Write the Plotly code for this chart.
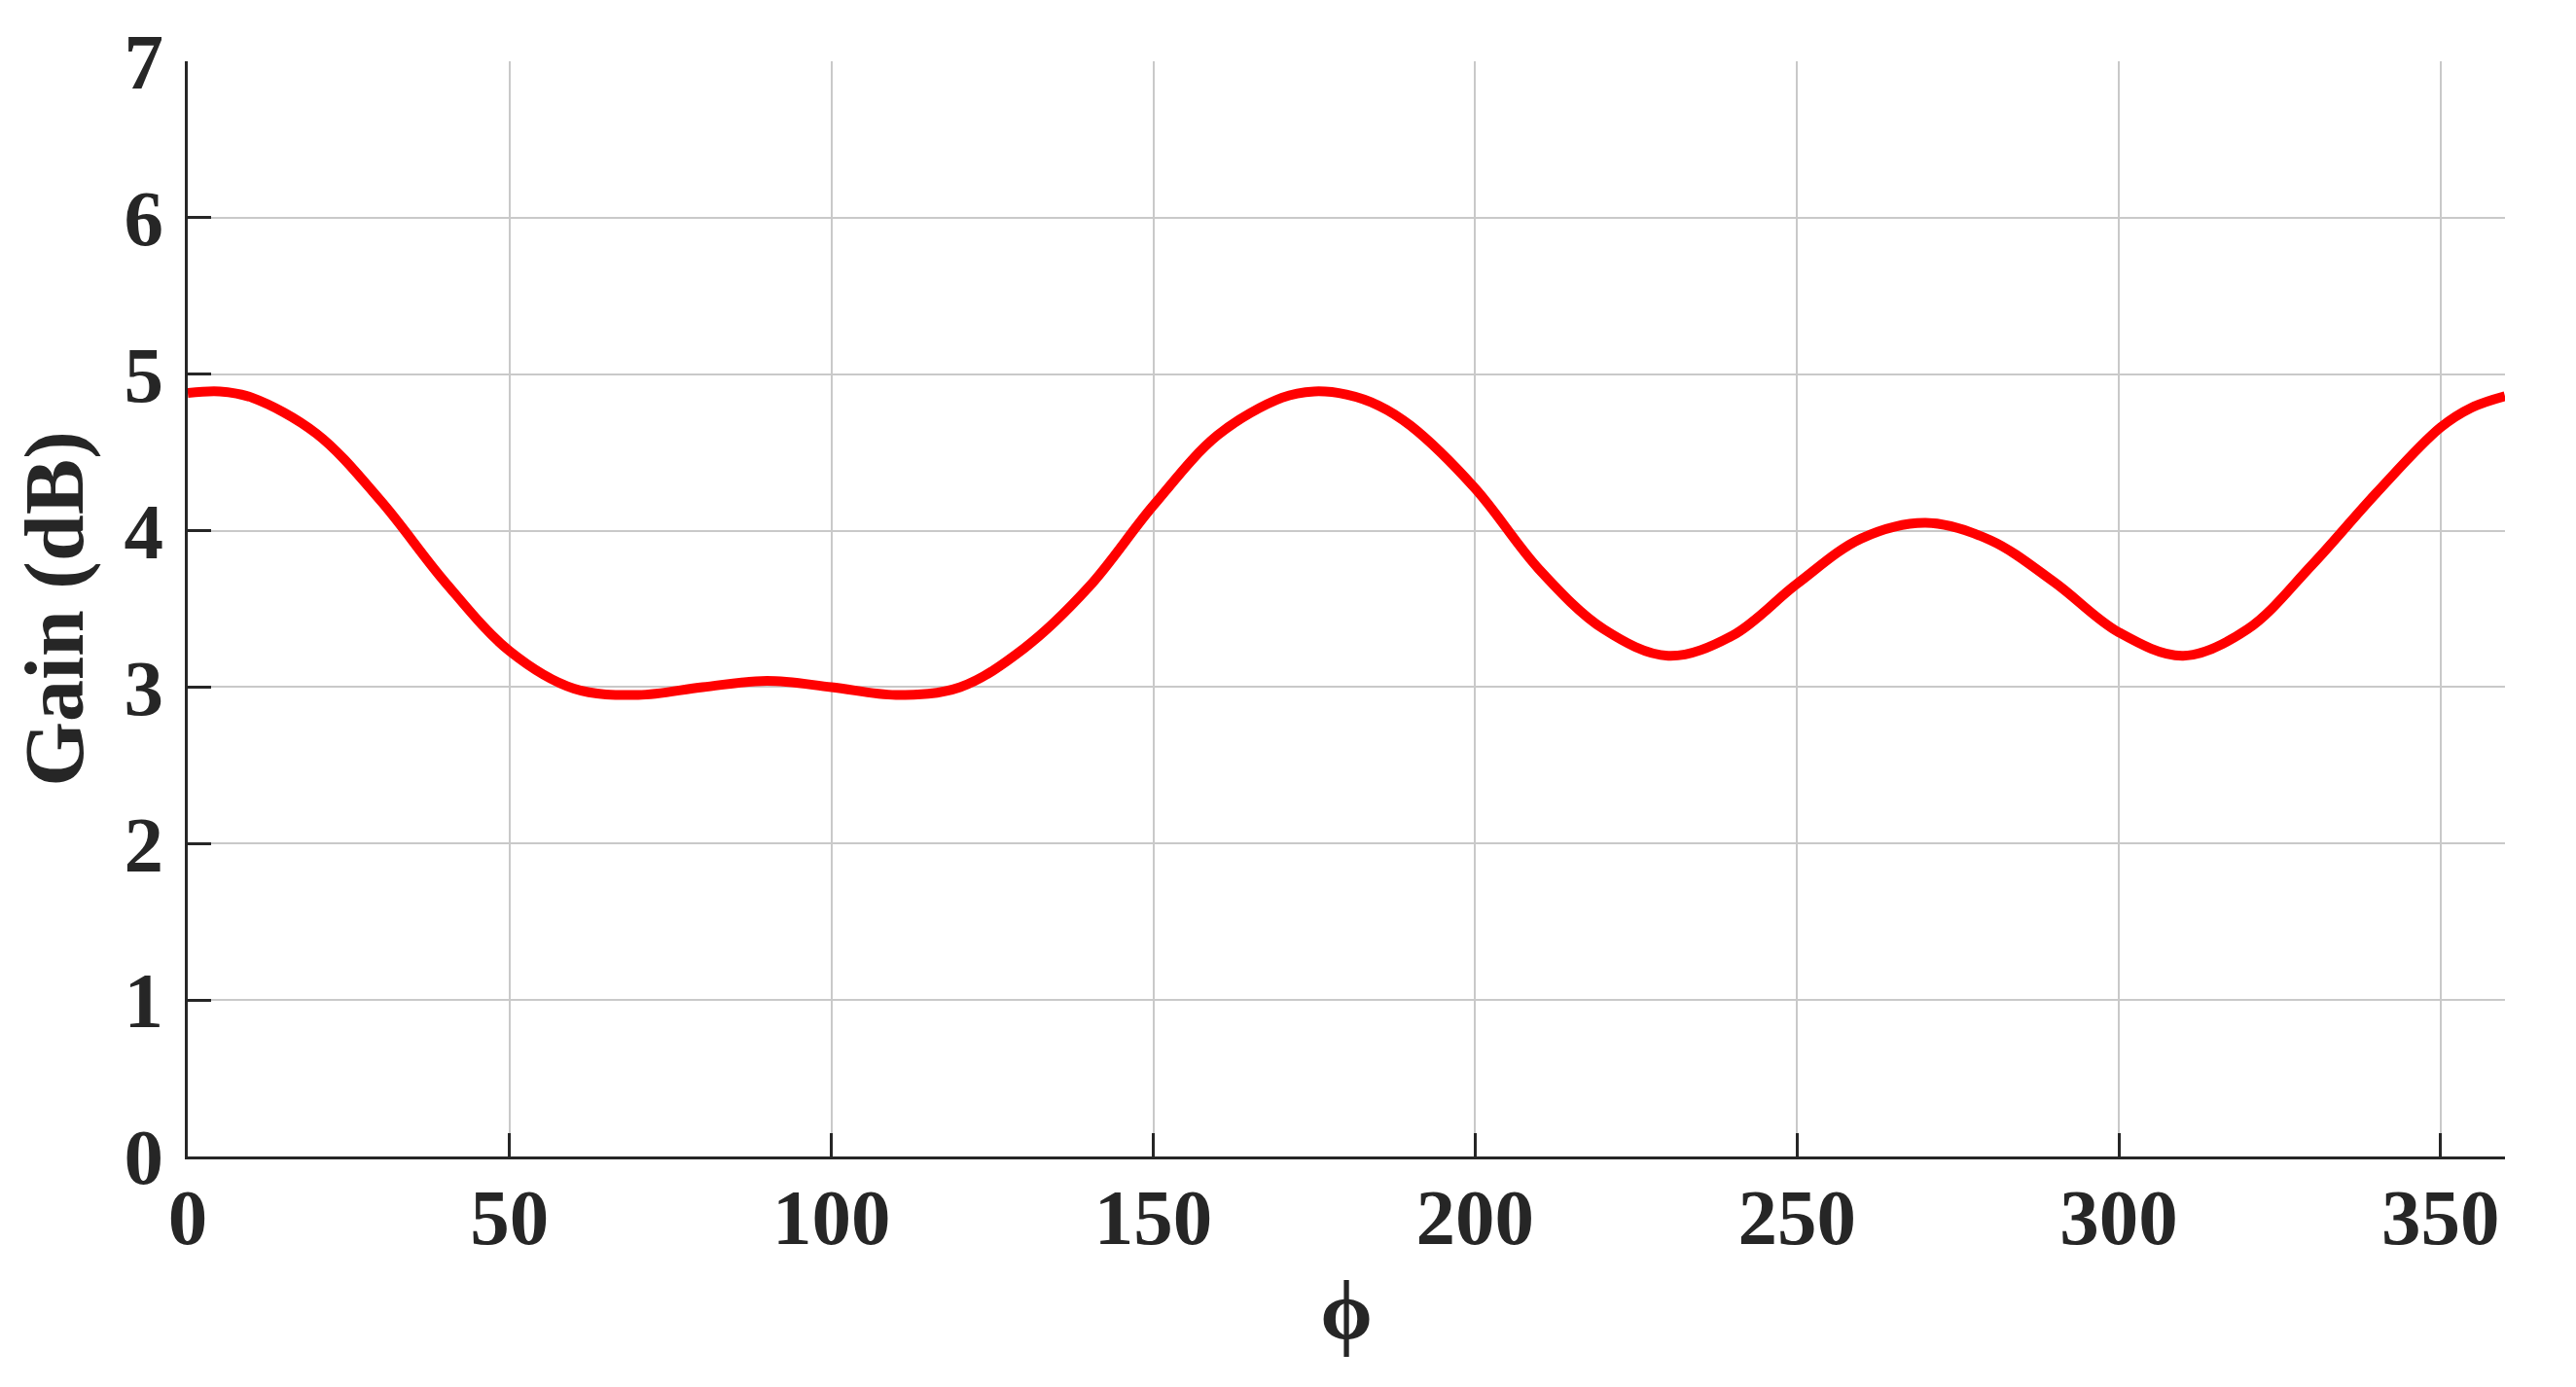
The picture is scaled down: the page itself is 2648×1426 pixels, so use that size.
import plotly.graph_objects as go

phi = [0, 5, 10, 20, 30, 40, 50, 60, 70, 80, 90, 100, 110, 120, 130, 140, 150, 160, 170,
       175, 180, 185, 190, 200, 210, 220, 230, 240, 250, 260, 270, 280, 290, 300, 310, 320,
       330, 340, 350, 355, 360]
gain = [4.88, 4.89, 4.85, 4.62, 4.19, 3.67, 3.23, 2.99, 2.95, 3.00, 3.04, 3.00, 2.95, 3.00,
        3.25, 3.64, 4.16, 4.61, 4.85, 4.89, 4.87, 4.80, 4.67, 4.27, 3.75, 3.37, 3.20, 3.33,
        3.66, 3.95, 4.05, 3.94, 3.67, 3.35, 3.20, 3.37, 3.78, 4.24, 4.66, 4.79, 4.86]

x_ticks = [0, 50, 100, 150, 200, 250, 300, 350]
y_ticks = [0, 1, 2, 3, 4, 5, 6, 7]

FONT = "Liberation Serif, Times New Roman, serif"
DARK = "#262626"

fig = go.Figure()
fig.add_trace(go.Scatter(x=phi, y=gain, mode="lines",
                         line=dict(color="#ff0000", width=10, shape="spline", smoothing=1.0),
                         showlegend=False, hoverinfo="skip"))

# page body has an 8px default margin; compensate so the plot lands where the reference has it
fig.update_layout(
    width=2632, height=1410,
    margin=dict(l=185, r=65, t=55, b=229),
    paper_bgcolor="white", plot_bgcolor="white",
    font=dict(family=FONT, color=DARK),
)
fig.update_xaxes(
    range=[0, 360], tickvals=x_ticks, ticktext=[f"<b>{v}</b>" for v in x_ticks],
    showgrid=True, gridcolor="#c9c9c9", gridwidth=2,
    showline=True, linecolor=DARK, linewidth=2.5,
    ticks="inside", ticklen=24, tickwidth=2.5, tickcolor=DARK,
    tickfont=dict(family=FONT, size=81, color=DARK),
    ticklabelstandoff=-10, automargin=False,
    title=dict(text="<b>ϕ</b>", font=dict(family=FONT, size=86, color=DARK), standoff=20),
    zeroline=False,
)
fig.update_yaxes(
    range=[0, 7], tickvals=y_ticks, ticktext=[f"<b>{v}</b>" for v in y_ticks],
    showgrid=True, gridcolor="#c9c9c9", gridwidth=2,
    showline=True, linecolor=DARK, linewidth=2.5,
    ticks="inside", ticklen=24, tickwidth=2.5, tickcolor=DARK,
    tickfont=dict(family=FONT, size=81, color=DARK),
    ticklabelstandoff=6, automargin=False,
    title=dict(text="<b>Gain (dB)</b>", font=dict(family=FONT, size=86, color=DARK), standoff=20),
    zeroline=False,
)

fig.write_html("out.html")
